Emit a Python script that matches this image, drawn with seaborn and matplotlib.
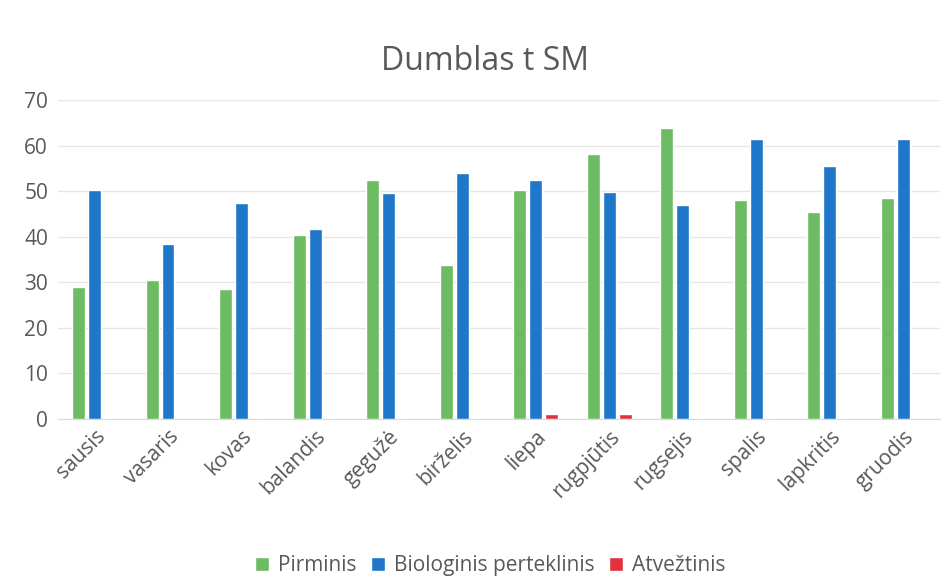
import pandas as pd
import matplotlib.pyplot as plt
import seaborn as sns

menesiai = ['sausis', 'vasaris', 'kovas', 'balandis', 'gegužė', 'birželis',
            'liepa', 'rugpjūtis', 'rugsejis', 'spalis', 'lapkritis', 'gruodis']
pirminis = [29.0, 30.6, 28.6, 40.3, 52.4, 33.9, 50.3, 58.1, 63.9, 48.1, 45.5, 48.6]
biologinis = [50.3, 38.5, 47.5, 41.7, 49.5, 54.0, 52.5, 49.9, 47.0, 61.4, 55.6, 61.4]
atveztinis = [0.2, 0.2, 0.2, 0.2, 0.2, 0.2, 1.0, 1.0, 0.2, 0.2, 0.2, 0.2]
serijos = ['Pirminis', 'Biologinis perteklinis', 'Atvežtinis']
spalvos = ['#6dbb63', '#1f77c9', '#e0313c']


def make_df():
    rows = []
    for name, vals in zip(serijos, [pirminis, biologinis, atveztinis]):
        for m, v in zip(menesiai, vals):
            rows.append({'menuo': m, 'serija': name, 'reiksme': v})
    return pd.DataFrame(rows)


def main():
    sns.set_style('white')
    plt.rcParams['font.family'] = ['Open Sans', 'DejaVu Sans']
    df = make_df()

    fig = plt.figure(figsize=(9.47, 5.79), dpi=100)
    ax = fig.add_axes([0.061, 0.2763, 0.9316, 0.5510])
    sns.barplot(data=df, x='menuo', y='reiksme', hue='serija', order=menesiai,
                hue_order=serijos, palette=spalvos, width=0.65, gap=0.19,
                saturation=1, ax=ax, legend=True)

    ax.set_ylim(0, 70)
    ax.set_xlim(-0.5, 11.5)
    ax.set_yticks(range(0, 71, 10))
    ax.yaxis.grid(True, color='#e6e6e6', linewidth=1)
    ax.set_axisbelow(True)
    for s in ['top', 'right', 'left']:
        ax.spines[s].set_visible(False)
    ax.spines['bottom'].set_color('#d9d9d9')
    ax.set_xlabel('')
    ax.set_ylabel('')
    ax.tick_params(axis='both', length=0, colors='#595959', labelsize=15)
    ax.tick_params(axis='y', pad=7)
    ax.tick_params(axis='x', pad=5)
    plt.setp(ax.get_xticklabels(), rotation=45, ha='right', rotation_mode='anchor')

    fig.text(0.512, 0.893, 'Dumblas t SM', ha='center', va='center',
             fontsize=23, color='#595959')

    ax.legend(loc='center', bbox_to_anchor=(0.49, -0.46), ncol=3, frameon=False,
              fontsize=15, handlelength=0.7, handleheight=0.7, handletextpad=0.4,
              columnspacing=0.7, labelcolor='#595959')

    plt.savefig('out.png', dpi=100)


if __name__ == '__main__':
    main()
